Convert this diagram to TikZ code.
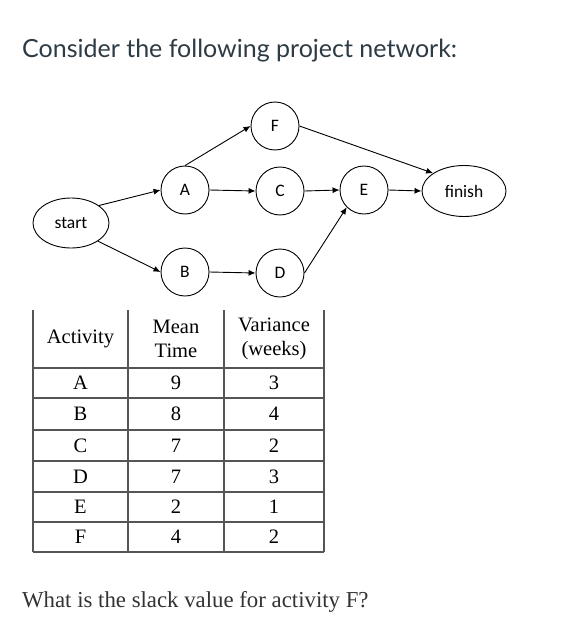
\documentclass[tikz,border=0pt]{standalone}
\usepackage{fontspec}
\setmainfont{Liberation Serif}
\newfontfamily\titlefont{Lato}
\newfontfamily\nodefont{Carlito}
\usetikzlibrary{arrows.meta,shapes.geometric}
\definecolor{titlecol}{HTML}{2D3B45}
\definecolor{textcol}{HTML}{333333}
\definecolor{gridcol}{HTML}{555555}
\tikzset{
  act/.style={circle,draw,line width=0.9pt,minimum size=48pt,inner sep=0pt,font=\nodefont\fontsize{17.5}{20}\selectfont},
  term/.style={ellipse,draw,line width=0.9pt,inner sep=0pt,font=\nodefont\fontsize{17.5}{20}\selectfont},
  arr/.style={-{Latex[length=7pt,width=6pt]},line width=0.9pt},
  grid/.style={draw=gridcol,line width=1.2pt},
  cell/.style={font=\fontsize{20.5}{24}\selectfont,text=black,align=center,inner sep=0pt},
}
\begin{document}
\begin{tikzpicture}[x=1pt,y=-1pt]
\useasboundingbox[fill=white] (0,0) rectangle (568,634);
% title
\node[anchor=base west,inner sep=0pt,text=titlecol,font=\titlefont\fontsize{25}{30}\selectfont] (title) at (22,57) {Consider the following project network:};
% network
\node[term,minimum width=76pt,minimum height=50pt] (start) at (71,223) {start};
\node[act] (A) at (185,190) {A};
\node[act] (B) at (185,272) {B};
\node[act] (F) at (275,126) {F};
\node[act] (C) at (280,191) {C};
\node[act] (D) at (280,273) {D};
\node[act] (E) at (364,190) {E};
\node[term,minimum width=84pt,minimum height=51pt] (finish) at (464,191) {finish};
\draw[arr] (start.32) -- (A.west);
\draw[arr] (start.-34) -- (B.west);
\draw[arr] (A.north) -- (F.west);
\draw[arr] (A.east) -- (C.west);
\draw[arr] (B.east) -- (D.west);
\draw[arr] (F.east) -- (finish.150);
\draw[arr] (C.east) -- (E.west);
\draw[arr] (D.east) -- (E.225);
\draw[arr] (E.east) -- (finish.west);
% table
\foreach \x in {33,128,224,324} \draw[grid] (\x,310) -- (\x,552);
\foreach \y in {368,398,430,461,492,522,552} \draw[grid] (33,\y) -- (324,\y);
\node[cell] (h1) at (80.5,339) {Activity};
\node[cell] (h2) at (176,339) {Mean\\Time};
\node[cell] (h3) at (274,339) {Variance\\(weeks)};
\foreach \a/\m/\v/\y [count=\i] in {A/9/3/383,B/8/4/414,C/7/2/445.5,D/7/3/476.5,E/2/1/507,F/4/2/537}{
  \node[cell] (a\i) at (80.5,\y) {\a};
  \node[cell] (m\i) at (176,\y) {\m};
  \node[cell] (v\i) at (274,\y) {\v};
}
% question
\node[anchor=base west,inner sep=0pt,text=textcol,font=\fontsize{22.8}{27}\selectfont] (q) at (22,607) {What is the slack value for activity F?};
\end{tikzpicture}
\end{document}
